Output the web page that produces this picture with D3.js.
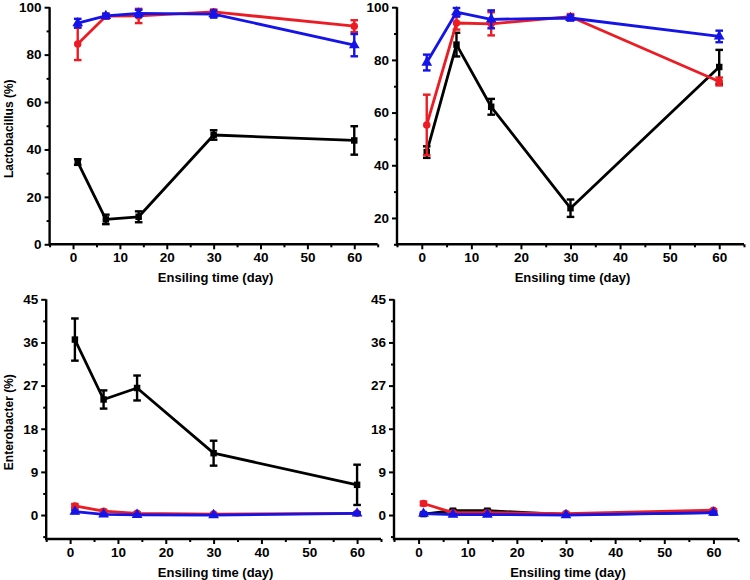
<!DOCTYPE html>
<html>
<head>
<meta charset="utf-8">
<script src="https://cdn.jsdelivr.net/npm/d3@7"></script>
<style>
  body { margin: 0; background: #fff; }
  svg { display: block; }
  text { font-family: "Liberation Sans", Arial, sans-serif; font-weight: bold; }
</style>
</head>
<body>
<svg id="chart" width="750" height="580"></svg>
<script>
// ---------- data ----------
const days = [1, 7, 14, 30, 60];

// Lactobacillus, left panel
const lacL_black = [34.7, 10.5, 11.6, 46.1, 43.8];
const lacL_blackErr = [1.2, 2.0, 2.3, 2.0, 6.0];
const lacL_red = [84.5, 96.2, 96.3, 98.0, 92.0];
const lacL_redErr = [6.8, 1.0, 3.0, 1.0, 2.5];
const lacL_blue = [93.3, 96.3, 97.4, 97.1, 84.0];
const lacL_blueErr = [1.8, 1.0, 1.5, 1.5, 4.7];

// Lactobacillus, right panel
const lacR_black = [45.0, 85.8, 62.2, 23.7, 77.3];
const lacR_blackErr = [2.2, 4.5, 3.0, 3.3, 6.5];
const lacR_red = [55.3, 94.0, 93.7, 96.4, 71.8];
const lacR_redErr = [11.5, 2.5, 4.4, 1.0, 1.5];
const lacR_blue = [79.0, 98.1, 95.4, 95.9, 88.9];
const lacR_blueErr = [3.0, 1.6, 3.4, 1.0, 2.2];

// Enterobacter, left panel
const entL_black = [36.6, 24.1, 26.5, 12.9, 6.3];
const entL_blackErr = [4.4, 1.9, 2.6, 2.6, 4.2];
const entL_red = [1.9, 0.8, 0.35, 0.2, 0.35];
const entL_redErr = [0.4, 0.3, 0.2, 0.1, 0.2];
const entL_blue = [0.7, 0.15, 0.05, 0.0, 0.35];
const entL_blueErr = [0.3, 0.1, 0.05, 0.05, 0.2];

// Enterobacter, right panel
const entR_black = [0.2, 0.9, 0.9, 0.1, 0.5];
const entR_blackErr = [0.1, 0.2, 0.2, 0.05, 0.2];
const entR_red = [2.4, 0.5, 0.5, 0.3, 1.0];
const entR_redErr = [0.4, 0.2, 0.2, 0.1, 0.2];
const entR_blue = [0.3, 0.1, 0.1, 0.0, 0.5];
const entR_blueErr = [0.2, 0.05, 0.05, 0.05, 0.2];

// tick values
const xMajorTicks = [0, 10, 20, 30, 40, 50, 60];
const xMinorTicks = [-5, 5, 15, 25, 35, 45, 55, 65];
const lacLYMajor = [0, 20, 40, 60, 80, 100];
const lacLYMinor = [10, 30, 50, 70, 90];
const lacRYMajor = [20, 40, 60, 80, 100];
const lacRYMinor = [10, 30, 50, 70, 90];
const entYMajor = [0, 9, 18, 27, 36, 45];
const entYMinor = [-4.5, 4.5, 13.5, 22.5, 31.5, 40.5];

const xTitle = "Ensiling time (day)";
const lacTitle = "Lactobacillus (%)";
const entTitle = "Enterobacter (%)";

// ---------- drawing ----------
const svg = d3.select("#chart");
const colors = { black: "#000000", red: "#ec1c24", blue: "#1414e8" };

const panels = [
  { xr: [49.6, 377.7], yr: [244.3, 7.2], yd: [0, 100], yMaj: lacLYMajor, yMin: lacLYMinor, title: lacTitle,
    series: [["black", lacL_black, lacL_blackErr], ["red", lacL_red, lacL_redErr], ["blue", lacL_blue, lacL_blueErr]] },
  { xr: [397, 744], yr: [244.3, 7.2], yd: [10, 100], yMaj: lacRYMajor, yMin: lacRYMinor, title: null,
    series: [["black", lacR_black, lacR_blackErr], ["red", lacR_red, lacR_redErr], ["blue", lacR_blue, lacR_blueErr]] },
  { xr: [46.2, 381], yr: [539, 299.3], yd: [-5, 45], yMaj: entYMajor, yMin: entYMinor, title: entTitle,
    series: [["black", entL_black, entL_blackErr], ["red", entL_red, entL_redErr], ["blue", entL_blue, entL_blueErr]] },
  { xr: [394, 738], yr: [539, 299.3], yd: [-5, 45], yMaj: entYMajor, yMin: entYMinor, title: null,
    series: [["black", entR_black, entR_blackErr], ["red", entR_red, entR_redErr], ["blue", entR_blue, entR_blueErr]] }
];

const markerSym = { black: d3.symbolSquare, red: d3.symbolCircle, blue: d3.symbolTriangle };
const markerSize = { black: 42, red: 44, blue: 50 };

panels.forEach(p => {
  const x = d3.scaleLinear().domain([-5, 65]).range(p.xr);
  const y = d3.scaleLinear().domain(p.yd).range(p.yr);
  const g = svg.append("g");

  const xa = g.append("g").attr("transform", `translate(0,${p.yr[0]})`);
  xa.call(d3.axisBottom(x).tickValues(xMajorTicks).tickSize(5).tickPadding(3).tickFormat(d3.format("d")));
  const xm = g.append("g").attr("transform", `translate(0,${p.yr[0]})`);
  xm.call(d3.axisBottom(x).tickValues(xMinorTicks).tickSize(3).tickFormat(""));
  const ya = g.append("g").attr("transform", `translate(${p.xr[0]},0)`);
  ya.call(d3.axisLeft(y).tickValues(p.yMaj).tickSize(5).tickPadding(3).tickFormat(d3.format("d")));
  const ym = g.append("g").attr("transform", `translate(${p.xr[0]},0)`);
  ym.call(d3.axisLeft(y).tickValues(p.yMin).tickSize(3).tickFormat(""));

  [xa, xm, ya, ym].forEach(a => {
    a.select(".domain").remove();
    a.selectAll(".tick line").attr("stroke", "#000").attr("stroke-width", 2);
    a.selectAll(".tick text").attr("fill", "#000").style("font-size", "13.5px").style("font-weight", "bold")
      .style("font-family", '"Liberation Sans", Arial, sans-serif');
  });
  g.append("line").attr("x1", p.xr[0]).attr("x2", p.xr[1]).attr("y1", p.yr[0]).attr("y2", p.yr[0])
    .attr("stroke", "#000").attr("stroke-width", 2.4);
  g.append("line").attr("x1", p.xr[0]).attr("x2", p.xr[0]).attr("y1", p.yr[0] + 1.2).attr("y2", p.yr[1])
    .attr("stroke", "#000").attr("stroke-width", 2.4);

  g.append("text").attr("x", (x(0) + x(60)) / 2 + 2).attr("y", p.yr[0] + 38)
    .attr("text-anchor", "middle").style("font-size", "13px").text(xTitle);
  if (p.title) {
    g.append("text").attr("transform", `translate(13,${(p.yr[0] + p.yr[1]) / 2 + 3}) rotate(-90)`)
      .attr("text-anchor", "middle").style("font-size", "12px").text(p.title);
  }

  const line = d3.line().x(d => x(d[0])).y(d => y(d[1]));
  p.series.forEach(([c, vals, errs]) => {
    const pts = days.map((d, i) => [d, vals[i], errs[i]]);
    const sg = g.append("g");
    sg.append("path").datum(pts).attr("d", line).attr("fill", "none")
      .attr("stroke", colors[c]).attr("stroke-width", 2.8).attr("stroke-linejoin", "round");
    const eb = sg.selectAll(".eb").data(pts).enter().append("g");
    eb.append("line").attr("x1", d => x(d[0])).attr("x2", d => x(d[0]))
      .attr("y1", d => y(d[1] - d[2])).attr("y2", d => y(d[1] + d[2]))
      .attr("stroke", colors[c]).attr("stroke-width", 2.4);
    [-1, 1].forEach(s => {
      eb.append("line").attr("x1", d => x(d[0]) - 3.8).attr("x2", d => x(d[0]) + 3.8)
        .attr("y1", d => y(d[1] + s * d[2])).attr("y2", d => y(d[1] + s * d[2]))
        .attr("stroke", colors[c]).attr("stroke-width", 2.4);
    });
    sg.selectAll(".mk").data(pts).enter().append("path")
      .attr("d", d3.symbol().type(markerSym[c]).size(markerSize[c]))
      .attr("transform", d => `translate(${x(d[0])},${y(d[1])})`)
      .attr("fill", colors[c]);
  });
});
</script>
</body>
</html>
